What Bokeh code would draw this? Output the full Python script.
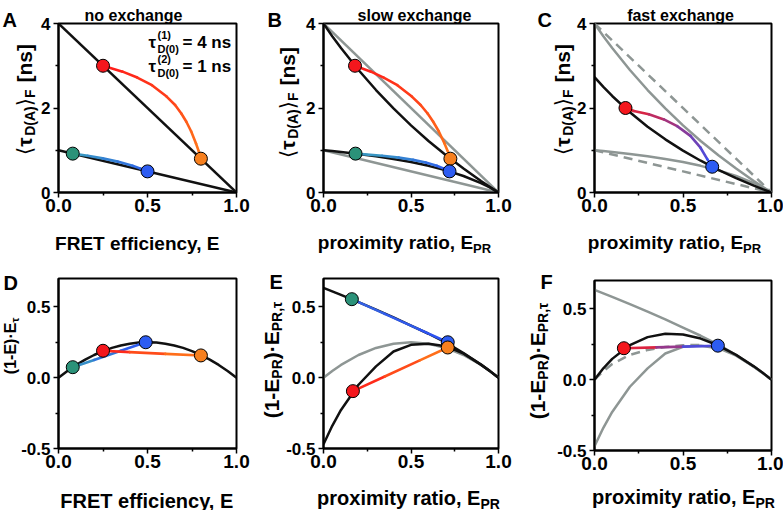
import math
from bokeh.plotting import figure
from bokeh.models import Range1d, FixedTicker, PrintfTickFormatter, Label, GridBox
from bokeh.embed import file_html
from bokeh.resources import INLINE

FONT = "Liberation Sans"
BR = "DejaVu Sans"

# ---------------- data ----------------
# Panel A: no exchange (x = FRET efficiency E, y = <tau>_F in ns)
a_static_E = [0.0, 1.0]
a_static1_tau = [4.0, 0.0]
a_static2_tau = [1.0, 0.0]
a_dyn1_E = [0.25, 0.36, 0.4425, 0.525, 0.6075, 0.655, 0.69, 0.7175, 0.745, 0.7725, 0.789, 0.8]
a_dyn1_tau = [3.0, 2.86, 2.72, 2.54, 2.27, 2.07, 1.87, 1.68, 1.45, 1.16, 0.96, 0.8]
a_dyn2_E = [0.08, 0.164, 0.248, 0.332, 0.416, 0.458, 0.479, 0.5]
a_dyn2_tau = [0.92, 0.87, 0.808, 0.731, 0.632, 0.571, 0.537, 0.5]
a_pts_E = [0.25, 0.8, 0.08, 0.5]
a_pts_tau = [3.0, 0.8, 0.92, 0.5]

# Panel B: slow exchange (x = proximity ratio E_PR)
b_epr = [0.0, 0.05, 0.1, 0.2, 0.3, 0.4, 0.5, 0.6, 0.7, 0.8, 0.9, 0.95, 1.0]
b_upper_tau = [4.0, 3.70, 3.42, 2.90, 2.425, 1.99, 1.59, 1.22, 0.88, 0.567, 0.273, 0.134, 0.0]
b_lower_tau = [1.0, 0.98, 0.959, 0.911, 0.857, 0.794, 0.72, 0.631, 0.524, 0.391, 0.222, 0.119, 0.0]
b_dyn1_epr = [0.18, 0.271, 0.344, 0.422, 0.505, 0.555, 0.595, 0.626, 0.6585, 0.6915, 0.7116, 0.725]
b_dyn1_tau = [3.0, 2.86, 2.72, 2.54, 2.27, 2.07, 1.87, 1.68, 1.45, 1.16, 0.96, 0.8]
b_dyn2_epr = [0.183, 0.335, 0.43, 0.512, 0.584, 0.647, 0.685, 0.72]
b_dyn2_tau = [0.92, 0.87, 0.825, 0.772, 0.709, 0.632, 0.571, 0.5]
b_pts_epr = [0.18, 0.725, 0.183, 0.72]
b_pts_tau = [3.0, 0.8, 0.92, 0.5]

# Panel C: fast exchange
c_black_tau = [2.73, 2.50, 2.285, 1.898, 1.558, 1.258, 0.991, 0.752, 0.536, 0.341, 0.163, 0.08, 0.0]
c_dyn_epr = [0.175, 0.222, 0.307, 0.392, 0.467, 0.542, 0.599, 0.637, 0.665]
c_dyn_tau = [2.0, 1.93, 1.85, 1.73, 1.57, 1.34, 1.06, 0.79, 0.61]
c_pts_epr = [0.175, 0.665]
c_pts_tau = [2.0, 0.61]

# Panel D: (1-E)*E_tau vs E
d_E = [0.0, 0.05, 0.1, 0.15, 0.2, 0.25, 0.3, 0.35, 0.4, 0.45, 0.5,
       0.55, 0.6, 0.65, 0.7, 0.75, 0.8, 0.85, 0.9, 0.95, 1.0]
d_y = [0.0, 0.0475, 0.09, 0.1275, 0.16, 0.1875, 0.21, 0.2275, 0.24, 0.2475, 0.25,
       0.2475, 0.24, 0.2275, 0.21, 0.1875, 0.16, 0.1275, 0.09, 0.0475, 0.0]
d_line1_E = [0.08, 0.2, 0.35, 0.49]
d_line1_y = [0.074, 0.125, 0.19, 0.25]
d_line2_E = [0.25, 0.4, 0.6, 0.8]
d_line2_y = [0.19, 0.18, 0.168, 0.157]
d_pts_E = [0.08, 0.25, 0.49, 0.8]
d_pts_y = [0.074, 0.19, 0.25, 0.157]

# Panel E: (1-E_PR)*E_PR,tau vs E_PR (slow exchange)
e_gray = [0.0, 0.0475, 0.09, 0.16, 0.21, 0.24, 0.25, 0.24, 0.21, 0.16, 0.09, 0.0475, 0.0]
e_upper = [0.634, 0.609, 0.584, 0.533, 0.48, 0.426, 0.368, 0.31, 0.248, 0.174, 0.092, 0.048, 0.0]
e_lower = [-0.47, -0.34, -0.228, -0.05, 0.08, 0.185, 0.232, 0.24, 0.222, 0.17, 0.092, 0.047, 0.0]
e_line1_epr = [0.162, 0.35, 0.55, 0.71]
e_line1_y = [0.554, 0.45, 0.339, 0.25]
e_line2_epr = [0.168, 0.35, 0.55, 0.71]
e_line2_y = [-0.095, 0.008, 0.122, 0.213]
e_pts_epr = [0.162, 0.168, 0.71, 0.71]
e_pts_y = [0.554, -0.095, 0.25, 0.213]

# Panel F: fast exchange
f_black = [0.0, 0.0803, 0.1468, 0.244, 0.3004, 0.3235, 0.3185, 0.29, 0.241, 0.175, 0.094, 0.0485, 0.0]
f_dash_epr = [0.0, 0.05, 0.1, 0.2, 0.3, 0.4, 0.5, 0.6]
f_dash_y = [0.0, 0.06, 0.11, 0.175, 0.21, 0.23, 0.243, 0.245]
f_line_epr = [0.166, 0.35, 0.5, 0.697]
f_line_y = [0.222, 0.228, 0.233, 0.239]
f_pts_epr = [0.166, 0.697]
f_pts_y = [0.222, 0.24]

# ---------------- styling ----------------
RED = "#f4171d"
ORANGE = "#f7801f"
TEAL = "#2b9279"
BLUE = "#2d5cf2"
GRAY = "#8e9694"
BLACK = "#111111"

CW = {' ': .278, '(': .333, ')': .333, '[': .333, ']': .333, '-': .333, '·': .333,
      ',': .278, '.': .278, '=': .584, 'a': .556, 'b': .611, 'c': .556, 'd': .611,
      'e': .556, 'f': .333, 'g': .611, 'h': .611, 'i': .278, 'j': .278, 'k': .556,
      'l': .278, 'm': .889, 'n': .611, 'o': .611, 'p': .611, 'q': .611, 'r': .389,
      's': .556, 't': .333, 'u': .611, 'v': .556, 'w': .778, 'x': .556, 'y': .556,
      'z': .5, 'A': .722, 'D': .722, 'E': .667, 'F': .611, 'P': .667, 'R': .722,
      'T': .611, 'τ': .52, '⟨': .39, '⟩': .39}


def tw(t, size):
    return sum(CW.get(ch, .556) for ch in t) * size


def hex2rgb(h):
    h = h.lstrip('#')
    return [int(h[i:i + 2], 16) for i in (0, 2, 4)]


def mix(c0, c1, t):
    a, b = hex2rgb(c0), hex2rgb(c1)
    return "#%02x%02x%02x" % tuple(int(round(a[i] + (b[i] - a[i]) * t)) for i in range(3))


def grad(p, xs, ys, c0, c1, width=2.6):
    n = len(xs) - 1
    cols = [mix(c0, c1, (i + 0.5) / n) for i in range(n)]
    p.segment(x0=xs[:-1], y0=ys[:-1], x1=xs[1:], y1=ys[1:], line_color=cols,
              line_width=width, line_cap="round")


def make_fig(width, height, bl, br, bt, bb, top_row):
    yr = (0, 4) if top_row else (-0.5, 0.7)
    p = figure(width=width, height=height, x_range=Range1d(0, 1), y_range=Range1d(*yr),
               output_backend="svg", toolbar_location=None,
               min_border_left=bl, min_border_right=br, min_border_top=bt, min_border_bottom=bb)
    p.frame_align = False
    p.grid.visible = False
    p.outline_line_color = "black"
    p.outline_line_width = 2
    p.outline_line_alpha = 1
    for ax in (p.xaxis[0], p.yaxis[0]):
        ax.axis_line_width = 2
        ax.axis_line_color = "black"
        ax.major_tick_line_width = 1.5
        ax.minor_tick_line_width = 1.5
        ax.major_tick_out = 5
        ax.major_tick_in = 0
        ax.minor_tick_out = 3
        ax.minor_tick_in = 0
        ax.major_label_text_font = FONT
        ax.major_label_text_font_style = "bold"
        ax.major_label_text_color = "black"
    p.xaxis.ticker = FixedTicker(ticks=[0, 0.5, 1], minor_ticks=[0.25, 0.75])
    p.xaxis.formatter = PrintfTickFormatter(format="%.1f")
    p.xaxis.major_label_text_font_size = "19px"
    p.xaxis.major_label_standoff = 1
    if top_row:
        p.yaxis.ticker = FixedTicker(ticks=[0, 2, 4], minor_ticks=[1, 3])
        p.yaxis.formatter = PrintfTickFormatter(format="%d")
    else:
        p.yaxis.ticker = FixedTicker(ticks=[-0.5, 0, 0.5], minor_ticks=[-0.25, 0.25])
        p.yaxis.formatter = PrintfTickFormatter(format="%.1f")
    p.yaxis.major_label_text_font_size = "17px"
    p.yaxis.major_label_standoff = 3
    return p


# ---------------- panels ----------------
pA = make_fig(260, 255, 58, 24, 23, 63, True)
pB = make_fig(255, 255, 63, 17, 23, 63, True)
pC = make_fig(268, 255, 79, 12, 23, 63, True)
pD = make_fig(260, 255, 58, 24, 23, 62, False)
pE = make_fig(255, 255, 63, 17, 23, 62, False)
pF = make_fig(268, 255, 79, 12, 25, 60, False)

# Panel A
pA.line(a_static_E, a_static1_tau, line_color=BLACK, line_width=2.5)
pA.line(a_static_E, a_static2_tau, line_color=BLACK, line_width=2.5)
grad(pA, a_dyn1_E, a_dyn1_tau, "#ff1a1a", "#ff7f1a")
grad(pA, a_dyn2_E, a_dyn2_tau, "#3a9cc0", "#2a50f5")
pA.scatter(a_pts_E, a_pts_tau, size=13, fill_color=[RED, ORANGE, TEAL, BLUE],
           line_color="black", line_width=1)

# Panel B
pB.line(a_static_E, a_static1_tau, line_color=GRAY, line_width=2.5)
pB.line(a_static_E, a_static2_tau, line_color=GRAY, line_width=2.5)
pB.line(b_epr, b_upper_tau, line_color=BLACK, line_width=2.5)
pB.line(b_epr, b_lower_tau, line_color=BLACK, line_width=2.5)
grad(pB, b_dyn1_epr, b_dyn1_tau, "#ff1a1a", "#ff7f1a")
grad(pB, b_dyn2_epr, b_dyn2_tau, "#3a9cc0", "#2a50f5")
pB.scatter(b_pts_epr, b_pts_tau, size=13, fill_color=[RED, ORANGE, TEAL, BLUE],
           line_color="black", line_width=1)

# Panel C
pC.line(a_static_E, a_static1_tau, line_color=GRAY, line_width=2.5, line_dash="9 6")
pC.line(a_static_E, a_static2_tau, line_color=GRAY, line_width=2.5, line_dash="9 6")
pC.line(b_epr, b_upper_tau, line_color=GRAY, line_width=2.5)
pC.line(b_epr, b_lower_tau, line_color=GRAY, line_width=2.5)
pC.line(b_epr, c_black_tau, line_color=BLACK, line_width=2.5)
grad(pC, c_dyn_epr, c_dyn_tau, "#ff1a1a", "#2c55ff")
pC.scatter(c_pts_epr, c_pts_tau, size=13, fill_color=[RED, BLUE],
           line_color="black", line_width=1)

# Panel D
pD.line(d_E, d_y, line_color=BLACK, line_width=2.5)
grad(pD, d_line1_E, d_line1_y, "#3a9cc0", "#2a50f5")
grad(pD, d_line2_E, d_line2_y, "#ff1a1a", "#ff7f1a")
pD.scatter(d_pts_E, d_pts_y, size=13, fill_color=[TEAL, RED, BLUE, ORANGE],
           line_color="black", line_width=1)

# Panel E
pE.line(b_epr, e_gray, line_color=GRAY, line_width=2.5)
pE.line(b_epr, e_upper, line_color=BLACK, line_width=2.5)
pE.line(b_epr, e_lower, line_color=BLACK, line_width=2.5)
grad(pE, e_line1_epr, e_line1_y, "#3563e0", "#2a50f5")
grad(pE, e_line2_epr, e_line2_y, "#ff1a1a", "#ff7f1a")
pE.scatter(e_pts_epr, e_pts_y, size=13, fill_color=[TEAL, RED, BLUE, ORANGE],
           line_color="black", line_width=1)

# Panel F
pF.line(f_dash_epr, f_dash_y, line_color=GRAY, line_width=2.5, line_dash="9 6")
pF.line(b_epr, e_upper, line_color=GRAY, line_width=2.5)
pF.line(b_epr, e_lower, line_color=GRAY, line_width=2.5)
pF.line(b_epr, f_black, line_color=BLACK, line_width=2.5)
grad(pF, f_line_epr, f_line_y, "#ff1a1a", "#2c55ff")
pF.scatter(f_pts_epr, f_pts_y, size=13, fill_color=[RED, BLUE],
           line_color="black", line_width=1)

# ---------------- text overlay (page-pixel coordinates) ----------------
W_TOT, H_TOT = 783, 510
ov = figure(width=W_TOT, height=H_TOT, x_range=Range1d(0, W_TOT), y_range=Range1d(H_TOT, 0),
            x_axis_type=None, y_axis_type=None, output_backend="svg", toolbar_location=None,
            min_border=0, background_fill_color=None, border_fill_color=None,
            outline_line_color=None)
ov.frame_align = False
ov.grid.visible = False


def lab(text, px, py, size, font=FONT, style="bold", align="left",
        baseline="alphabetic", angle=0.0, color="black"):
    ov.add_layout(Label(x=px, y=py, text=text, text_font=font,
                        text_font_size=f"{size}px", text_font_style=style,
                        text_align=align, text_baseline=baseline, angle=angle,
                        text_color=color))


def seg_w(s):
    return s[2] if s[0] is None else tw(s[0], s[1])


def rich(segs, px, py, vertical=False):
    total = sum(seg_w(s) for s in segs)
    if vertical:
        cur = py + total / 2
        for s in segs:
            t, size, shift, font, style = s
            if t is not None:
                lab(t, px + shift, cur, size, font, style, angle=math.pi / 2)
            cur -= seg_w(s)
    else:
        cur = px - total / 2
        for s in segs:
            t, size, shift, font, style = s
            if t is not None:
                lab(t, cur, py + shift, size, font, style)
            cur += seg_w(s)


def tau_label(size, sub):
    return [("⟨", size, 0, BR, "normal"), ("τ", size, 0, FONT, "bold"),
            ("D(A)", sub, 5, FONT, "bold"), ("⟩", size, 0, BR, "normal"),
            ("F", sub, 5, FONT, "bold"), (None, 0, 7, None, None),
            ("[ns]", size, 0, FONT, "bold")]


def epr_x(size, sub):
    return [("proximity ratio, E", size, 0, FONT, "bold"), ("PR", sub, 6, FONT, "bold")]


def epr_y(size, sub):
    return [("(1-E", size, 0, FONT, "bold"), ("PR", sub, 5, FONT, "bold"),
            (")·E", size, 0, FONT, "bold"), ("PR,τ", sub, 5, FONT, "bold")]


# panel letters
lab("A", 2, 19, 20)
lab("B", 267, 19, 20)
lab("C", 537, 19, 20)
lab("D", 3, 282, 20)
lab("E", 269, 281, 20)
lab("F", 540, 281, 20)

# titles
lab("no exchange", 133, 15, 16, align="center")
lab("slow exchange", 414, 15, 16, align="center")
lab("fast exchange", 680, 15, 16, align="center")

# annotation in A
for (py, sup, val) in ((41.5, "(1)", "= 4 ns"), (66, "(2)", "= 1 ns")):
    lab("τ", 148, py, 17)
    lab(sup, 157, py - 7.5, 11)
    lab("D(0)", 157, py + 6.5, 11)
    lab(val, 182, py, 17)

# x-axis titles
rich([("FRET efficiency, E", 19, 0, FONT, "bold")], 137.5, 243)
rich(epr_x(19, 13), 404, 242)
rich(epr_x(19, 13), 674, 242)
rich([("FRET efficiency, E", 20, 0, FONT, "bold")], 147, 500)
rich(epr_x(20, 14), 408, 497)
rich(epr_x(20, 14), 683, 496)

# y-axis titles
rich(tau_label(21, 14), 24, 99, vertical=True)
rich(tau_label(21, 14), 287, 102, vertical=True)
rich(tau_label(21, 14), 562, 99, vertical=True)
rich([("(1-E)·E", 16, 0, FONT, "bold"), ("τ", 11, 4, FONT, "bold")], 10, 345, vertical=True)
rich(epr_y(21, 14), 271, 359, vertical=True)
rich(epr_y(21, 14), 537, 360, vertical=True)

layout = GridBox(children=[(pA, 0, 0), (pB, 0, 1), (pC, 0, 2),
                           (pD, 1, 0), (pE, 1, 1), (pF, 1, 2),
                           (ov, 0, 0, 2, 3)], spacing=0)

open("out.html", "w").write(file_html(layout, INLINE))
